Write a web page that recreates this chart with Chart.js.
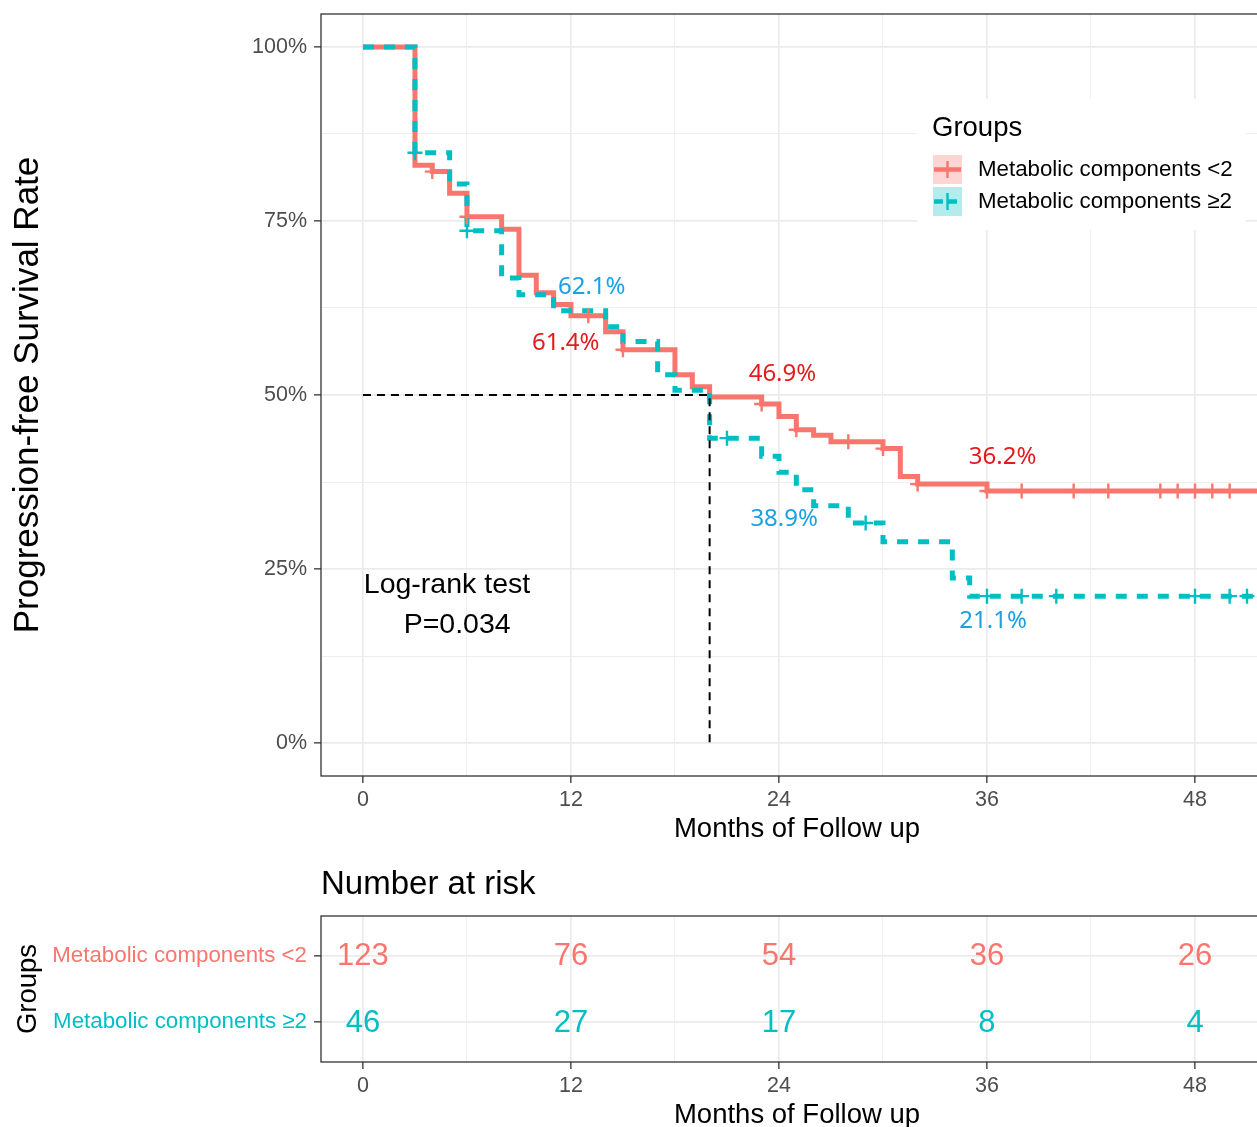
<!DOCTYPE html>
<html>
<head>
<meta charset="utf-8">
<title>Progression-free survival by metabolic components</title>
<script src="https://cdn.jsdelivr.net/npm/chart.js@4.4.1/dist/chart.umd.min.js"></script>
<style>
  html, body { margin: 0; padding: 0; background: #fff; overflow: hidden; width: 1257px; height: 1127px; }
  #survChart { position: absolute; left: 0; top: 0; }
  #riskChart { position: absolute; left: 0; top: 850px; }
</style>
</head>
<body>
<canvas id="survChart" width="1300" height="850"></canvas>
<canvas id="riskChart" width="1300" height="300"></canvas>
<script>
const groupNames = ['Metabolic components <2', 'Metabolic components \u22652'];
const groupColors = ['#F8766D', '#00BFC4'];

// Kaplan-Meier steps, months / survival
const lowTimes = [0, 3, 4, 5, 6, 8, 9, 10, 11, 12, 14, 15, 18, 19, 20, 23, 24, 25, 26, 27, 30, 31, 32, 36, 52];
const lowSurv = [1, 0.830, 0.821, 0.790, 0.756, 0.738, 0.672, 0.647, 0.630, 0.614, 0.591, 0.565, 0.529, 0.512, 0.497, 0.487, 0.469, 0.450, 0.442, 0.433, 0.423, 0.383, 0.372, 0.362, 0.362];
const lowCensored = [4, 6, 13, 15, 23, 25, 28, 30, 32, 36, 38, 41, 43, 46, 47, 48, 49, 50];

const highTimes = [0, 3, 5, 6, 8, 9, 11, 14, 15, 17, 18, 20, 23, 24, 25, 26, 28, 30, 34, 35, 52];
const highSurv = [1, 0.848, 0.803, 0.736, 0.668, 0.644, 0.621, 0.598, 0.577, 0.529, 0.507, 0.438, 0.412, 0.389, 0.364, 0.341, 0.316, 0.289, 0.237, 0.211, 0.211];
const highCensored = [3, 6, 21, 29, 36, 38, 40, 48, 50, 51];

const medianTime = 20;

const landmarkLabels = ['62.1%', '61.4%', '46.9%', '36.2%', '38.9%', '21.1%'];
const landmarkGroup = [1, 0, 0, 0, 1, 1];
const pValueLines = ['Log-rank test', 'P=0.034'];

const riskTimes = [0, 12, 24, 36, 48];
const riskLow = [123, 76, 54, 36, 26];
const riskHigh = [46, 27, 17, 8, 4];

const xTickVals = [0, 6, 12, 18, 24, 30, 36, 42, 48];
const yTickVals = [0, 0.125, 0.25, 0.375, 0.5, 0.625, 0.75, 0.875, 1];

const SANS = "'Liberation Sans', Arial, sans-serif";
Chart.defaults.font.family = SANS;

const curves = [
  { times: lowTimes, surv: lowSurv, censored: lowCensored },
  { times: highTimes, surv: highSurv, censored: highCensored }
];
const riskCounts = [riskLow, riskHigh];

function survAt(times, surv, t) {
  let s = surv[0];
  times.forEach((tt, i) => { if (tt <= t) s = surv[i]; });
  return s;
}

function fade(hex, a) {
  const n = parseInt(hex.slice(1), 16);
  return `rgba(${n >> 16}, ${(n >> 8) & 255}, ${n & 255}, ${a})`;
}

const isMajorX = v => v % 12 === 0;
const isMajorY = v => Math.abs(v * 4 - Math.round(v * 4)) < 1e-6;

// fixed axis box, and no extra room reserved for end labels
function fixWidth(w) {
  return s => { s.width = w; s.paddingTop = 0; s.paddingBottom = 0; };
}

function xScale(withTitle) {
  return {
    type: 'linear',
    min: -2.42,
    max: 52.5,
    afterBuildTicks: ax => { ax.ticks = xTickVals.map(v => ({ value: v })); },
    afterFit: s => { s.height = 70; },
    border: { display: false },
    grid: {
      color: '#EBEBEB',
      lineWidth: c => isMajorX(c.tick.value) ? 1.7 : 0.85,
      tickLength: 7,
      tickWidth: 1.3,
      tickColor: c => isMajorX(c.tick.value) ? '#333333' : 'rgba(0,0,0,0)'
    },
    ticks: {
      autoSkip: false,
      maxRotation: 0,
      padding: 4,
      color: '#4D4D4D',
      font: { size: 21.5 },
      callback: v => isMajorX(v) ? String(v) : ''
    },
    title: {
      display: withTitle,
      text: 'Months of Follow up',
      color: '#000',
      font: { size: 27.5 },
      padding: { top: 0, bottom: 0 }
    }
  };
}

// percentages, p value and median guide text placed in data units
const landmarkAnchor = [[13.2, 0.655], [11.7, 0.575], [24.2, 0.530], [36.9, 0.411], [24.3, 0.322], [36.35, 0.175]];
const landmarkInk = ['#E41A1C', '#1BA1E2'];

function drawLegend(ctx, area) {
  const left = area.left + 596, top = area.top + 85;
  ctx.fillStyle = '#fff';
  ctx.fillRect(left, top, 329, 131);
  ctx.textAlign = 'left';
  ctx.textBaseline = 'middle';
  ctx.fillStyle = '#000';
  ctx.font = '27.5px ' + SANS;
  ctx.fillText('Groups', left + 15, top + 29);
  groupNames.forEach((name, g) => {
    const ky = top + 56 + g * 32;
    ctx.fillStyle = fade(groupColors[g], 0.3);
    ctx.fillRect(left + 16, ky, 29, 29);
    ctx.strokeStyle = groupColors[g];
    ctx.lineWidth = 4.5;
    ctx.setLineDash(g ? [9, 5] : []);
    ctx.beginPath();
    ctx.moveTo(left + 17, ky + 14.5);
    ctx.lineTo(left + 44, ky + 14.5);
    ctx.stroke();
    ctx.setLineDash([]);
    ctx.lineWidth = 2.4;
    ctx.beginPath();
    ctx.moveTo(left + 30.5, ky + 6);
    ctx.lineTo(left + 30.5, ky + 23);
    ctx.stroke();
    ctx.fillStyle = '#000';
    ctx.font = '22.3px ' + SANS;
    ctx.fillText(name, left + 61, ky + 15);
  });
}

const survDecor = {
  id: 'survDecor',
  afterDraw(chart) {
    const { ctx, chartArea: a, scales: { x, y } } = chart;
    ctx.save();
    ctx.textBaseline = 'middle';
    ctx.textAlign = 'center';
    ctx.font = "24px 'Noto Sans', sans-serif";
    landmarkLabels.forEach((txt, i) => {
      ctx.fillStyle = landmarkInk[landmarkGroup[i]];
      ctx.fillText(txt, x.getPixelForValue(landmarkAnchor[i][0]), y.getPixelForValue(landmarkAnchor[i][1]));
    });
    ctx.textAlign = 'left';
    ctx.fillStyle = '#000';
    ctx.font = '28.5px ' + SANS;
    ctx.fillText(pValueLines[0], x.getPixelForValue(0.05), y.getPixelForValue(0.227));
    ctx.fillText(pValueLines[1], x.getPixelForValue(2.35), y.getPixelForValue(0.170));
    drawLegend(ctx, a);
    ctx.strokeStyle = '#333333';
    ctx.lineWidth = 1.3;
    ctx.strokeRect(a.left, a.top, a.right - a.left, a.bottom - a.top);
    ctx.restore();
  }
};

const stepSets = curves.map((c, g) => ({
  data: c.times.map((t, i) => ({ x: t, y: c.surv[i] })),
  stepped: 'before',
  borderColor: groupColors[g],
  borderWidth: 5,
  borderDash: g ? [11, 10] : [],
  borderCapStyle: 'butt',
  pointRadius: 0,
  fill: false,
  order: g ? 2 : 3
}));

const censorSets = curves.map((c, g) => ({
  data: c.censored.map(t => ({ x: t, y: survAt(c.times, c.surv, t) })),
  showLine: false,
  pointStyle: 'cross',
  pointRadius: 7.5,
  pointBorderWidth: 2.4,
  pointBorderColor: groupColors[g],
  pointBackgroundColor: groupColors[g],
  order: 1
}));

const medianSet = {
  data: [{ x: 0, y: 0.5 }, { x: medianTime, y: 0.5 }, { x: medianTime, y: 0 }],
  borderColor: '#000',
  borderWidth: 2,
  borderDash: [8, 6],
  pointRadius: 0,
  fill: false,
  order: 0
};

new Chart(document.getElementById('survChart'), {
  type: 'line',
  data: { datasets: [...stepSets, ...censorSets, medianSet] },
  options: {
    responsive: false,
    animation: false,
    layout: { padding: { left: 0, top: 14, right: 27, bottom: 4 } },
    plugins: { legend: { display: false }, tooltip: { enabled: false } },
    scales: {
      x: xScale(true),
      y: {
        type: 'linear',
        min: -0.0474,
        max: 1.0474,
        afterBuildTicks: ax => { ax.ticks = yTickVals.map(v => ({ value: v })); },
        afterFit: fixWidth(321),
        border: { display: false },
        grid: {
          color: '#EBEBEB',
          lineWidth: c => isMajorY(c.tick.value) ? 1.7 : 0.85,
          tickLength: 7,
          tickWidth: 1.3,
          tickColor: c => isMajorY(c.tick.value) ? '#333333' : 'rgba(0,0,0,0)'
        },
        ticks: {
          autoSkip: false,
          padding: 7,
          color: '#4D4D4D',
          font: { size: 21.5 },
          callback: v => isMajorY(v) ? Math.round(v * 100) + '%' : ''
        },
        title: {
          display: true,
          text: 'Progression-free Survival Rate',
          color: '#000',
          font: { size: 35 },
          padding: { top: 7, bottom: 0 }
        }
      }
    }
  },
  plugins: [survDecor]
});

const riskDecor = {
  id: 'riskDecor',
  afterDraw(chart) {
    const { ctx, chartArea: a } = chart;
    ctx.save();
    ctx.textAlign = 'center';
    ctx.textBaseline = 'middle';
    ctx.font = '31px ' + SANS;
    chart.data.datasets.forEach((ds, g) => {
      ctx.fillStyle = groupColors[g];
      chart.getDatasetMeta(g).data.forEach((pt, i) => {
        ctx.fillText(String(riskCounts[g][i]), pt.x, pt.y + 1);
      });
    });
    ctx.textAlign = 'left';
    ctx.fillStyle = '#000';
    ctx.font = '33px ' + SANS;
    ctx.fillText('Number at risk', a.left, a.top - 31);
    ctx.strokeStyle = '#333333';
    ctx.lineWidth = 1.3;
    ctx.strokeRect(a.left, a.top, a.right - a.left, a.bottom - a.top);
    ctx.restore();
  }
};

new Chart(document.getElementById('riskChart'), {
  type: 'scatter',
  data: {
    datasets: riskCounts.map((counts, g) => ({
      data: riskTimes.map(t => ({ x: t, y: riskCounts.length - g })),
      pointRadius: 0
    }))
  },
  options: {
    responsive: false,
    animation: false,
    layout: { padding: { left: 0, top: 66, right: 27, bottom: 18 } },
    plugins: { legend: { display: false }, tooltip: { enabled: false } },
    scales: {
      x: xScale(true),
      y: {
        type: 'linear',
        min: 0.4,
        max: 2.6,
        afterBuildTicks: ax => { ax.ticks = [{ value: 1 }, { value: 2 }]; },
        afterFit: fixWidth(321),
        border: { display: false },
        grid: { color: '#EBEBEB', lineWidth: 1.7, tickLength: 7, tickWidth: 1.3, tickColor: '#333333' },
        ticks: {
          autoSkip: false,
          padding: 7,
          font: { size: 22.3 },
          color: c => groupColors[riskCounts.length - c.tick.value],
          callback: v => groupNames[riskCounts.length - v]
        },
        title: {
          display: true,
          text: 'Groups',
          color: '#000',
          font: { size: 27.5 },
          padding: { top: 11.5, bottom: 0 }
        }
      }
    }
  },
  plugins: [riskDecor]
});
</script>
</body>
</html>
